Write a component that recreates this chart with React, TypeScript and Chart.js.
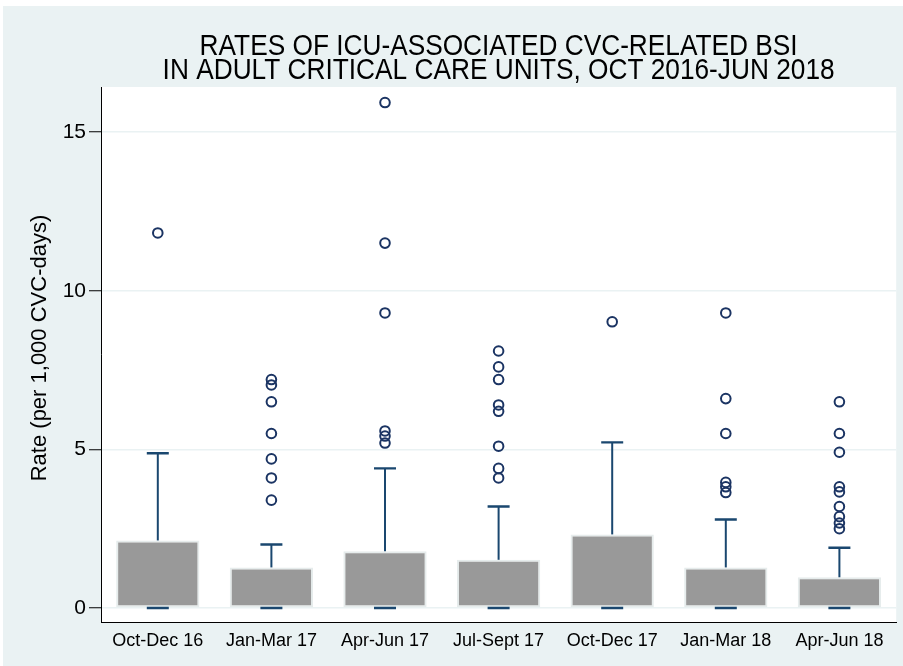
import React, { useEffect, useRef } from 'react';
import { Chart, registerables } from 'chart.js';

Chart.register(...registerables);

const categories = ['Oct-Dec 16', 'Jan-Mar 17', 'Apr-Jun 17', 'Jul-Sept 17', 'Oct-Dec 17', 'Jan-Mar 18', 'Apr-Jun 18'];
const lowerWhisker = [0, 0, 0, 0, 0, 0, 0];
const q1 = [0, 0, 0, 0, 0, 0, 0];
const q3 = [2.13, 1.28, 1.79, 1.52, 2.32, 1.28, 0.97];
const upperWhisker = [4.88, 2.0, 4.4, 3.2, 5.22, 2.79, 1.9];
const outliers: number[][] = [
  [11.82],
  [7.2, 7.03, 6.5, 5.5, 4.7, 4.1, 3.4],
  [15.93, 11.5, 9.3, 5.58, 5.42, 5.2],
  [8.1, 7.6, 7.2, 6.4, 6.2, 5.1, 4.4, 4.1],
  [9.02],
  [9.3, 6.6, 5.5, 3.96, 3.82, 3.64],
  [6.5, 5.5, 4.91, 3.82, 3.66, 3.2, 2.88, 2.68, 2.5],
];
const yTicks = [0, 5, 10, 15];
const titleLines = ['RATES OF ICU-ASSOCIATED CVC-RELATED BSI', 'IN ADULT CRITICAL CARE UNITS, OCT 2016-JUN 2018'];
const yTitle = 'Rate (per 1,000 CVC-days)';

const BG = '#EAF2F3';
const FONT = '"Liberation Sans", Arial, Helvetica, sans-serif';
const WHISKER = '#1A476F';
const MARKER = '#1B3463';

const backgroundPlugin = {
  id: 'bgPlugin',
  beforeDraw(chart: any) {
    const { ctx, width, height, chartArea } = chart;
    ctx.save();
    ctx.fillStyle = '#ffffff';
    ctx.fillRect(0, 0, width, height);
    ctx.fillStyle = BG;
    ctx.fillRect(3, 6, width - 3, height - 6);
    ctx.fillStyle = '#ffffff';
    ctx.fillRect(chartArea.left, chartArea.top, chartArea.right - chartArea.left, chartArea.bottom - chartArea.top);
    ctx.restore();
  },
};

const whiskerPlugin = {
  id: 'whiskerPlugin',
  afterDatasetsDraw(chart: any) {
    const { ctx } = chart;
    const xs = chart.scales.x;
    const ys = chart.scales.y;
    const capHalf = 11;
    ctx.save();
    ctx.strokeStyle = WHISKER;
    ctx.lineCap = 'butt';
    categories.forEach((_, i) => {
      const x = xs.getPixelForValue(i);
      const yTop = ys.getPixelForValue(q3[i]);
      const yHi = ys.getPixelForValue(upperWhisker[i]);
      const yBot = ys.getPixelForValue(q1[i]);
      const yLo = ys.getPixelForValue(lowerWhisker[i]);
      ctx.lineWidth = 2;
      ctx.beginPath();
      ctx.moveTo(x, yTop);
      ctx.lineTo(x, yHi);
      ctx.moveTo(x, yBot);
      ctx.lineTo(x, yLo);
      ctx.stroke();
      ctx.lineWidth = 2.4;
      ctx.beginPath();
      ctx.moveTo(x - capHalf, yHi);
      ctx.lineTo(x + capHalf, yHi);
      ctx.moveTo(x - capHalf, yLo);
      ctx.lineTo(x + capHalf, yLo);
      ctx.stroke();
    });
    ctx.restore();
  },
};

const titlePlugin = {
  id: 'titlePlugin',
  afterDraw(chart: any) {
    const { ctx, chartArea } = chart;
    const cx = (chartArea.left + chartArea.right) / 2;
    ctx.save();
    ctx.fillStyle = '#000000';
    ctx.font = `30px ${FONT}`;
    ctx.textAlign = 'center';
    ctx.textBaseline = 'alphabetic';
    const baselines = [55, 79];
    titleLines.forEach((line, i) => {
      ctx.save();
      ctx.translate(cx, baselines[i]);
      ctx.scale(0.875, 1);
      ctx.fillText(line, 0, 0);
      ctx.restore();
    });
    ctx.font = `22px ${FONT}`;
    ctx.textBaseline = 'middle';
    ctx.translate(40, 348);
    ctx.rotate(-Math.PI / 2);
    ctx.fillText(yTitle, 0, 0);
    ctx.restore();
  },
};

export default function App() {
  const canvasRef = useRef<HTMLCanvasElement | null>(null);

  useEffect(() => {
    if (!canvasRef.current) return;
    const outlierPoints: { x: string; y: number }[] = [];
    outliers.forEach((vals, i) => vals.forEach((v) => outlierPoints.push({ x: categories[i], y: v })));

    const chart = new Chart(canvasRef.current, {
      type: 'bar',
      data: {
        labels: categories,
        datasets: [
          {
            type: 'bar',
            data: categories.map((_, i) => [q1[i], q3[i]]) as any,
            backgroundColor: '#999999',
            borderColor: '#E6ECEC',
            borderWidth: 2,
            borderSkipped: false,
            barPercentage: 0.733,
            categoryPercentage: 1,
          } as any,
          {
            type: 'line',
            data: outlierPoints as any,
            showLine: false,
            pointStyle: 'circle',
            pointRadius: 4.8,
            pointBorderWidth: 2,
            pointBorderColor: MARKER,
            pointBackgroundColor: 'rgba(0,0,0,0)',
            pointHoverRadius: 4.8,
          } as any,
        ],
      },
      options: {
        responsive: false,
        animation: false,
        devicePixelRatio: 1,
        events: [],
        layout: { padding: { top: 87, right: 6, left: 0, bottom: 0 } },
        plugins: {
          legend: { display: false },
          tooltip: { enabled: false },
          title: { display: false },
        },
        scales: {
          x: {
            type: 'category',
            offset: true,
            grid: { display: false, drawTicks: false },
            border: { display: true, color: '#000000', width: 1 },
            ticks: {
              font: { family: FONT, size: 18 },
              color: '#000000',
              padding: 8,
              maxRotation: 0,
              autoSkip: false,
            },
            afterFit: (s: any) => {
              s.height = 44;
            },
          },
          y: {
            type: 'linear',
            min: -0.44,
            max: 16.42,
            afterBuildTicks: (s: any) => {
              s.ticks = yTicks.map((v) => ({ value: v }));
            },
            grid: {
              color: BG,
              lineWidth: 1.5,
              drawTicks: true,
              tickLength: 12,
              tickColor: '#000000',
              tickWidth: 1,
            },
            border: { display: true, color: '#000000', width: 1 },
            ticks: {
              font: { family: FONT, size: 21 },
              color: '#000000',
              padding: 3,
            },
            afterFit: (s: any) => {
              s.width = 101;
            },
          },
        },
      },
      plugins: [backgroundPlugin, whiskerPlugin, titlePlugin],
    });
    return () => chart.destroy();
  }, []);

  return (
    <div style={{ position: 'absolute', left: 0, top: 0, width: 903, height: 666 }}>
      <canvas ref={canvasRef} width={903} height={666} style={{ display: 'block', width: 903, height: 666 }} />
    </div>
  );
}
